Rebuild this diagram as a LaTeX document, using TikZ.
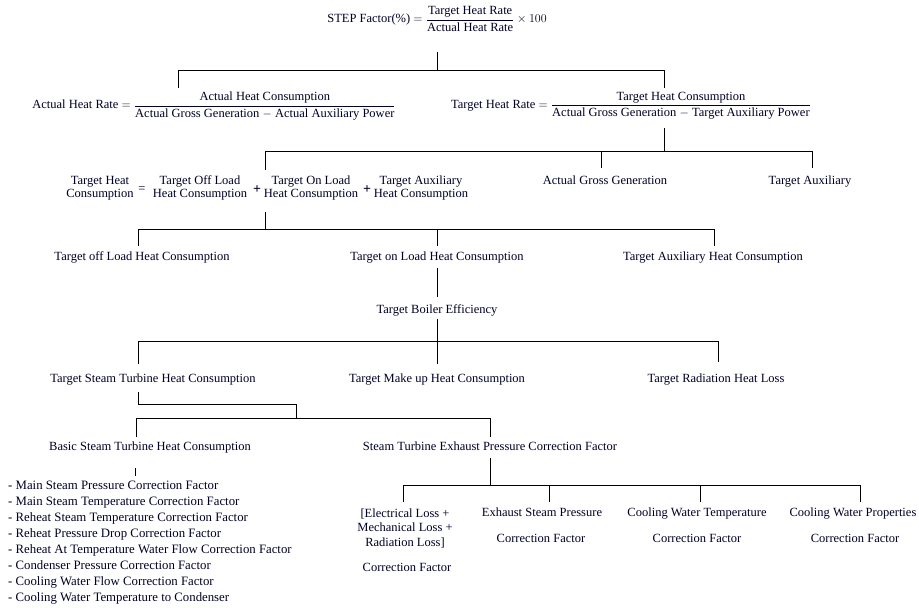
\documentclass[tikz,border=0pt]{standalone}
\usepackage{amsmath}
\usepackage{fontspec}
\setmainfont{Liberation Serif}
\begin{document}
\begin{tikzpicture}[x=1pt,y=-1pt,
  txt/.style={font=\fontsize{12.5}{13}\selectfont, inner sep=0pt, align=center, text=black!85!blue},
  one/.style={txt, text height=12pt, text depth=3pt},
  ln/.style={line width=0.8pt, black}]
\useasboundingbox (0,0) rectangle (919,608);

% ---------- texts ----------
\node[txt] (top) at (437,19) {STEP Factor(\%) $=\dfrac{\mbox{Target Heat Rate}}{\mbox{Actual Heat Rate}}\times 100$};
\node[txt] (ahr) at (214,106) {Actual Heat Rate $=\dfrac{\mbox{Actual Heat Consumption}}{\mbox{Actual Gross Generation $-$ Actual Auxiliary Power}}$};
\node[txt] (thr) at (631,106) {Target Heat Rate $=\dfrac{\mbox{Target Heat Consumption}}{\mbox{Actual Gross Generation $-$ Target Auxiliary Power}}$};

\node[txt] (thc) at (100,188) {Target Heat\\Consumption};
\node[txt] (eqs) at (142,190) {=};
\node[txt] (toffl) at (200,188) {Target Off Load\\Heat Consumption};
\node[txt, font=\fontsize{14}{14}\selectfont\bfseries] (pl1) at (257,190) {+};
\node[txt] (tonl) at (311,188) {Target On Load\\Heat Consumption};
\node[txt, font=\fontsize{14}{14}\selectfont\bfseries] (pl2) at (367,190) {+};
\node[txt] (tauxl) at (421,188) {Target Auxiliary\\Heat Consumption};
\node[one] (agg) at (605,180) {Actual Gross Generation};
\node[one] (taux) at (810,180) {Target Auxiliary};

\node[one] (toff) at (142,256) {Target off Load Heat Consumption};
\node[one] (ton) at (437,256) {Target on Load Heat Consumption};
\node[one] (tauxh) at (713,256) {Target Auxiliary Heat Consumption};
\node[one] (tbe) at (437,309) {Target Boiler Efficiency};

\node[one] (tst) at (153,378) {Target Steam Turbine Heat Consumption};
\node[one] (tmu) at (437,378) {Target Make up Heat Consumption};
\node[one] (trh) at (716,378) {Target Radiation Heat Loss};

\node[one] (bst) at (150,446) {Basic Steam Turbine Heat Consumption};
\node[one] (ste) at (490,446) {Steam Turbine Exhaust Pressure Correction Factor};

\node[txt, align=left, anchor=north west, font=\fontsize{12.8}{16}\selectfont] (lst) at (8,481) {%
- Main Steam Pressure Correction Factor\\
- Main Steam Temperature Correction Factor\\
- Reheat Steam Temperature Correction Factor\\
- Reheat Pressure Drop Correction Factor\\
- Reheat At Temperature Water Flow Correction Factor\\
- Condenser Pressure Correction Factor\\
- Cooling Water Flow Correction Factor\\
- Cooling Water Temperature to Condenser};

\node[txt, font=\fontsize{12.5}{14.5}\selectfont] (el) at (405,528) {[Electrical Loss +\\Mechanical Loss +\\Radiation Loss]};
\node[one] (elcf) at (407,567) {Correction Factor};
\node[one] (esp) at (542,512) {Exhaust Steam Pressure};
\node[one] (espcf) at (541,538) {Correction Factor};
\node[one] (cwt) at (697,512) {Cooling Water Temperature};
\node[one] (cwtcf) at (697,538) {Correction Factor};
\node[one] (cwp) at (853,512) {Cooling Water Properties};
\node[one] (cwpcf) at (855,538) {Correction Factor};

% ---------- junction points ----------
\coordinate (a0) at (437,52);  \coordinate (a1) at (437,70);
\coordinate (aL) at (178,70);  \coordinate (aR) at (664,70);
\coordinate (aLd) at (178,88); \coordinate (aRd) at (664,88);

\coordinate (b0) at (664,128); \coordinate (b1) at (664,151);
\coordinate (bL) at (265,151); \coordinate (bM) at (601,151); \coordinate (bR) at (812,151);
\coordinate (bLd) at (265,170); \coordinate (bMd) at (601,168); \coordinate (bRd) at (812,168);

\coordinate (c0) at (265,212); \coordinate (c1) at (265,229);
\coordinate (cL) at (138,229); \coordinate (cM) at (437,229); \coordinate (cR) at (714,229);
\coordinate (cLd) at (138,246); \coordinate (cMd) at (437,246); \coordinate (cRd) at (714,246);

\coordinate (d0) at (437,268); \coordinate (d1) at (437,297);

\coordinate (e0) at (437,319); \coordinate (e1) at (437,341);
\coordinate (eL) at (138,341); \coordinate (eR) at (718,341);
\coordinate (eLd) at (138,364); \coordinate (eMd) at (437,364); \coordinate (eRd) at (718,362);

\coordinate (f0) at (138,392); \coordinate (f1) at (138,404);
\coordinate (f2) at (296,404); \coordinate (f3) at (296,418);
\coordinate (fL) at (136,418); \coordinate (fR) at (490,418);
\coordinate (fLd) at (136,437); \coordinate (fRd) at (490,437);

\coordinate (g0) at (135,468); \coordinate (g1) at (135,476);

\coordinate (h0) at (490,458); \coordinate (h1) at (490,485);
\coordinate (hA) at (403,485); \coordinate (hB) at (549,485);
\coordinate (hC) at (700,485); \coordinate (hD) at (860,485);
\coordinate (hAd) at (403,502); \coordinate (hBd) at (549,502);
\coordinate (hCd) at (700,502); \coordinate (hDd) at (860,502);

% ---------- connectors ----------
\draw[ln] (a0) -- (a1);
\draw[ln] (aLd) -- (aL) -- (aR) -- (aRd);

\draw[ln] (b0) -- (b1);
\draw[ln] (bLd) -- (bL) -- (bR) -- (bRd);
\draw[ln] (bM) -- (bMd);

\draw[ln] (c0) -- (c1);
\draw[ln] (cLd) -- (cL) -- (cR) -- (cRd);
\draw[ln] (cM) -- (cMd);

\draw[ln] (d0) -- (d1);

\draw[ln] (e0) -- (eMd);
\draw[ln] (eLd) -- (eL) -- (eR) -- (eRd);

\draw[ln] (f0) -- (f1) -- (f2) -- (f3);
\draw[ln] (fLd) -- (fL) -- (fR) -- (fRd);

\draw[ln] (g0) -- (g1);

\draw[ln] (h0) -- (h1);
\draw[ln] (hAd) -- (hA) -- (hD) -- (hDd);
\draw[ln] (hB) -- (hBd);
\draw[ln] (hC) -- (hCd);
\end{tikzpicture}
\end{document}
